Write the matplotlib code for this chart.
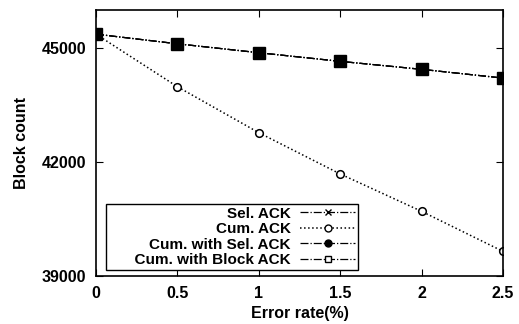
import matplotlib
matplotlib.use("Agg")
import matplotlib.pyplot as plt
from matplotlib.lines import Line2D

plt.rcParams["font.family"] = ["Liberation Sans", "DejaVu Sans"]
plt.rcParams["font.weight"] = "bold"

error_rate = [0, 0.5, 1, 1.5, 2, 2.5]
sel_ack = [45365, 45112, 44877, 44650, 44440, 44210]
cum_ack = [45365, 43982, 42773, 41687, 40703, 39650]
cum_sel_ack = [45365, 45112, 44877, 44650, 44440, 44210]
cum_block_ack = [45365, 45112, 44877, 44650, 44440, 44210]

fig = plt.figure(figsize=(5.19, 3.24), dpi=100)
ax = fig.add_axes([0.185, 0.148, 0.784, 0.821])

ax.plot(error_rate, sel_ack, color="black", ls="-.", lw=0.9, marker="x", ms=6)
ax.plot(error_rate, cum_ack, color="black", ls=":", lw=1.1, marker="o", ms=5.5,
        mfc="white", mew=1.1)
ax.plot(error_rate, cum_sel_ack, color="black", ls="-.", lw=0.9, marker="o", ms=6)
ax.plot(error_rate, cum_block_ack, color="black", ls="-.", lw=0.9, marker="s", ms=8,
        mfc="black")

ax.set_xlim(0, 2.5)
ax.set_ylim(39000, 46000)
ax.set_xticks(error_rate)
ax.set_xticklabels(["0", "0.5", "1", "1.5", "2", "2.5"])
ax.set_yticks([39000, 42000, 45000])
ax.tick_params(direction="in", top=True, right=True, labelsize=11.5, length=5, pad=7)
for lbl in ax.get_xticklabels() + ax.get_yticklabels():
    lbl.set_fontweight("bold")
for s in ax.spines.values():
    s.set_linewidth(1.2)

ax.set_xlabel("Error rate(%)", fontsize=11.5, fontweight="bold", labelpad=4)
ax.set_ylabel("Block count", fontsize=11.5, fontweight="bold", labelpad=9)

handles = [
    Line2D([], [], color="black", ls="-.", lw=0.9, marker="x", ms=5),
    Line2D([], [], color="black", ls=":", lw=1.1, marker="o", ms=5, mfc="white"),
    Line2D([], [], color="black", ls="-.", lw=0.9, marker="o", ms=5),
    Line2D([], [], color="black", ls="-.", lw=0.9, marker="s", ms=5, mfc="white"),
]
labels = ["Sel. ACK", "Cum. ACK", "Cum. with Sel. ACK", "      Cum. with Block ACK"]
leg = ax.legend(handles, labels, loc="lower left", bbox_to_anchor=(0.025, 0.022),
                markerfirst=False, fancybox=False, framealpha=1, edgecolor="black",
                prop={"size": 11, "weight": "bold"}, handlelength=3.6,
                labelspacing=0.1, borderpad=0.2, handletextpad=0.6, borderaxespad=0)
leg.get_frame().set_linewidth(1.0)
for t in leg.get_texts():
    t.set_ha("right")

fig.savefig("out.png", dpi=100)
